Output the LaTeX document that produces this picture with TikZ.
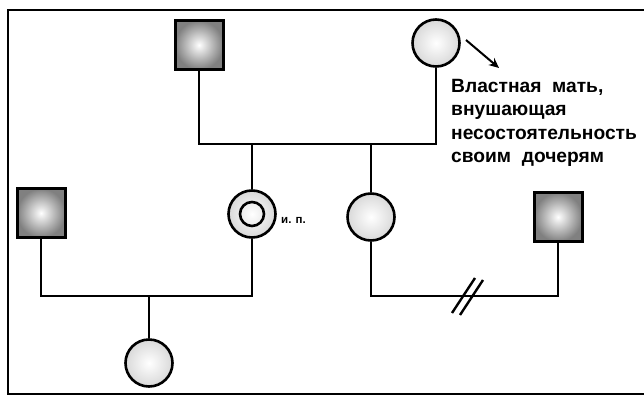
\documentclass[tikz,border=0pt]{standalone}
\usepackage{fontspec}
\setmainfont{Liberation Sans}
\usetikzlibrary{arrows.meta}
\begin{document}
\begin{tikzpicture}[x=1pt,y=-1pt,
  male/.style={draw=black,line width=3pt,minimum width=48pt,minimum height=49pt,inner sep=0pt,
    inner color=white,outer color=black!50},
  female/.style={circle,draw=black,line width=2.6pt,minimum width=47pt,inner sep=0pt,
    inner color=white,outer color=black!15},
  link/.style={line width=2.4pt},
  lbl/.style={font=\bfseries\fontsize{19.2}{23.5}\selectfont,align=left,inner sep=0pt}]
\useasboundingbox (0,0) rectangle (644,396);
\draw[line width=1.8pt] (644,10) -- (8,10) -- (8,394) -- (644,394);
% generation I
\node[male] (gf) at (199,45) {};
\node[female] (gm) at (436,43) {};
\draw[-{Stealth[length=10pt,width=9pt]},line width=2pt] (466,40) coordinate (a0) -- (499,68) coordinate (a1);
\node[lbl,anchor=north west] (txt) at (451,79) {Властная\ \ мать,\\внушающая\\несостоятельность\\своим\ \ дочерям};
% generation II
\node[male] (h1) at (41,213) {};
\node[female] (p) at (252,214) {};
\node[circle,draw=black,line width=2.6pt,minimum width=24pt,inner sep=0pt] (pin) at (252,214) {};
\node[font=\bfseries\fontsize{11.5}{13}\selectfont,anchor=west,inner sep=0pt] (ip) at (281,220) {и. п.};
\node[female] (sis) at (371,217) {};
\node[male] (h2) at (558,217) {};
% generation III
\node[female] (d) at (149,363) {};
% junction levels
\coordinate (j1) at (0,144);
\coordinate (j2) at (0,296);
\coordinate (j3) at (0,296);
\draw[link] (gf.south) -- (gf.south |- j1) -- (gm.south |- j1) -- (gm.south);
\draw[link] (p.north) -- (p.north |- j1);
\draw[link] (sis.north) -- (sis.north |- j1);
\draw[link] (h1.south) -- (h1.south |- j2) -- (p.south |- j2) -- (p.south);
\draw[link] (d.north) -- (d.north |- j2);
\draw[link] (sis.south) -- (sis.south |- j3) -- (h2.south |- j3) -- (h2.south);
% divorce marks
\draw[link] (452,313) coordinate (s1a) -- (475,278) coordinate (s1b);
\draw[link] (460,315) coordinate (s2a) -- (483,280) coordinate (s2b);
\end{tikzpicture}
\end{document}
